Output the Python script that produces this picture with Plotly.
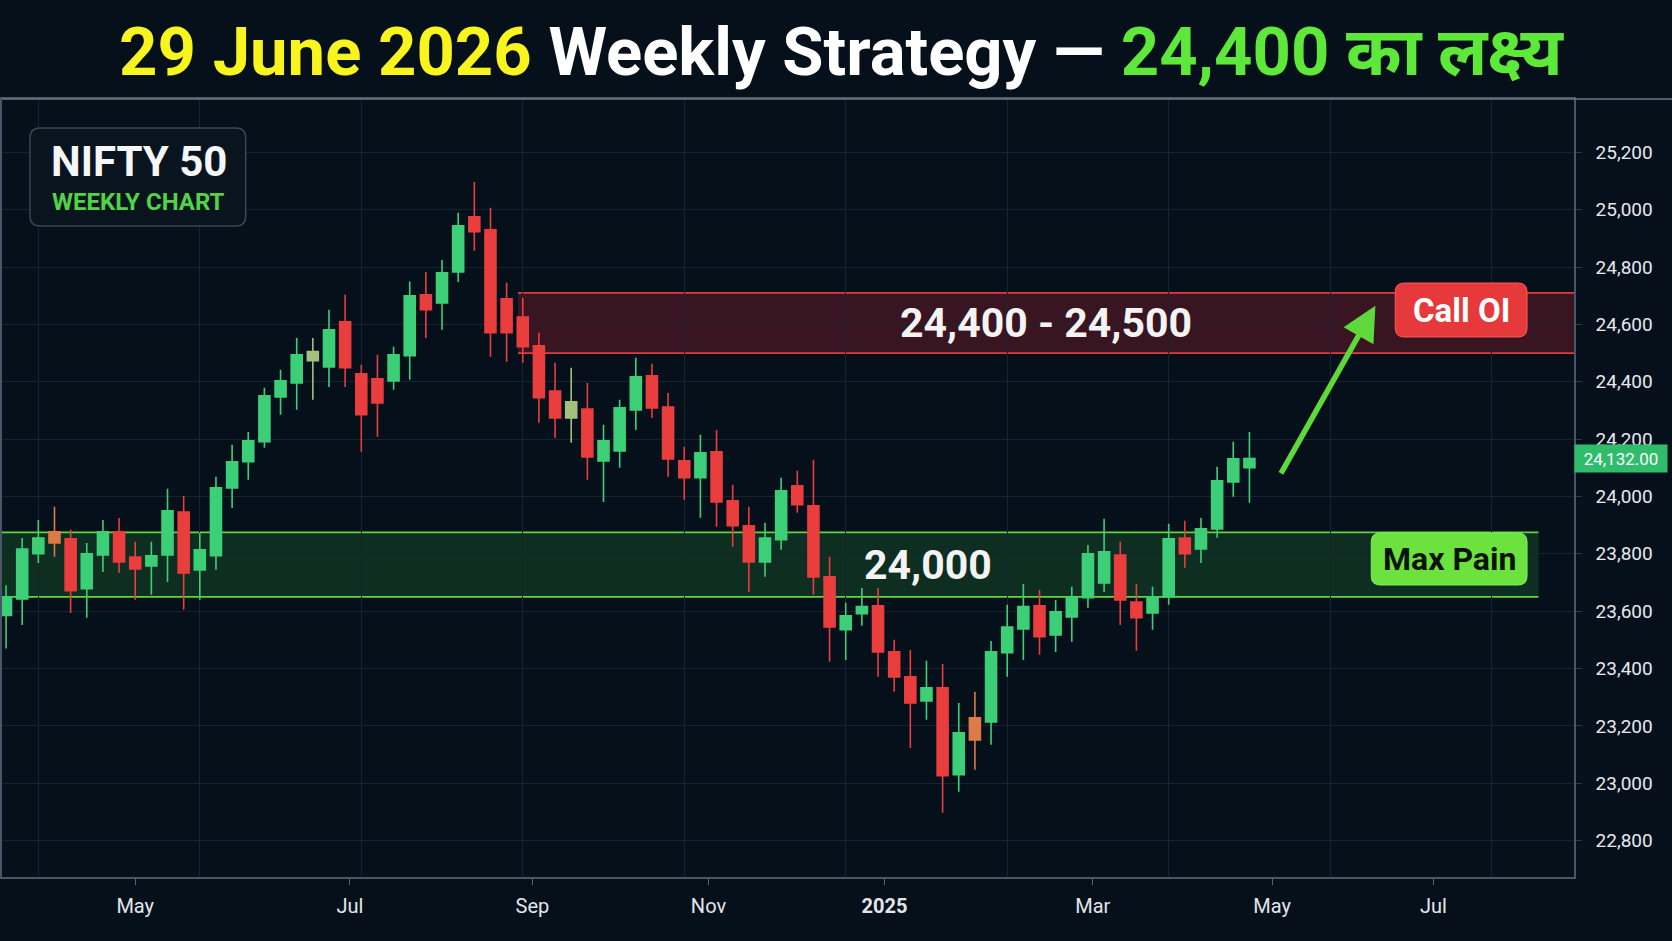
import plotly.graph_objects as go

# ---------------- data ----------------
week_index = list(range(78))
opens = [23585, 23643, 23800, 23877, 23852, 23678, 23796, 23877, 23789, 23758,
         23796, 23946, 23744, 23793, 24030, 24121, 24191, 24347, 24396, 24473,
         24452, 24609, 24428, 24410, 24403, 24491, 24703, 24675, 24783, 24975,
         24930, 24689, 24626, 24525, 24368, 24274, 24305, 24124, 24159, 24302,
         24421, 24312, 24124, 24065, 24156, 23985, 23898, 23772, 23849, 24037,
         23967, 23720, 23535, 23591, 23619, 23458, 23371, 23287, 23333, 23030,
         23228, 23214, 23455, 23538, 23619, 23517, 23580, 23647, 23698, 23796,
         23632, 23594, 23650, 23855, 23817, 23887, 24051, 24100]
highs = [23690, 23855, 23918, 23964, 23884, 23838, 23918, 23925, 23842, 23842,
         24027, 24002, 23873, 24069, 24180, 24225, 24379, 24442, 24553, 24553,
         24651, 24703, 24459, 24494, 24522, 24750, 24783, 24825, 24989, 25097,
         25007, 24745, 24693, 24571, 24466, 24449, 24396, 24250, 24337, 24484,
         24463, 24361, 24173, 24215, 24232, 24041, 23964, 23908, 24065, 24090,
         24128, 23790, 23629, 23681, 23681, 23500, 23465, 23427, 23416, 23280,
         23319, 23496, 23622, 23695, 23674, 23639, 23685, 23831, 23922, 23842,
         23695, 23685, 23905, 23915, 23925, 24104, 24191, 24225]
lows = [23470, 23552, 23768, 23790, 23594, 23577, 23737, 23733, 23640, 23657,
        23702, 23605, 23640, 23744, 23960, 24058, 24170, 24285, 24302, 24337,
        24382, 24382, 24156, 24208, 24372, 24407, 24553, 24581, 24748, 24857,
        24487, 24470, 24466, 24257, 24204, 24187, 24058, 23981, 24100, 24232,
        24274, 24069, 23988, 23926, 23894, 23825, 23667, 23720, 23814, 23943,
        23657, 23424, 23430, 23549, 23371, 23319, 23123, 23221, 22897, 22970,
        23047, 23134, 23371, 23430, 23448, 23458, 23493, 23612, 23667, 23552,
        23462, 23535, 23622, 23751, 23768, 23856, 23999, 23978]
closes = [23650, 23817, 23855, 23838, 23671, 23800, 23877, 23772, 23747, 23793,
          23950, 23733, 23814, 24030, 24121, 24194, 24351, 24403, 24494, 24505,
          24581, 24449, 24285, 24326, 24494, 24700, 24651, 24780, 24944, 24923,
          24571, 24571, 24522, 24344, 24274, 24330, 24138, 24194, 24309, 24417,
          24309, 24131, 24065, 24152, 23981, 23898, 23772, 23855, 24020, 23971,
          23719, 23545, 23584, 23616, 23458, 23371, 23280, 23333, 23026, 23176,
          23151, 23458, 23545, 23616, 23511, 23598, 23647, 23800, 23807, 23639,
          23577, 23650, 23852, 23800, 23887, 24055, 24131, 24132]
# candles drawn in muted (olive / orange) colours
muted_candles = [3, 19, 35, 60]

month_labels = ["May", "Jul", "Sep", "Nov", "<b>2025</b>", "Mar", "May", "Jul"]
month_label_pos = [8.0, 21.3, 32.6, 43.5, 54.4, 67.3, 78.4, 88.4]

call_oi_zone = [24500, 24710]
call_oi_zone_start = 31.7
max_pain_zone = [23650, 23875]
max_pain_zone_end = 94.9
last_price = 24132
target_arrow = {"from": (78.9, 24075), "to": (84.8, 24665)}

# ---------------- layout geometry ----------------
W, H = 1672, 941
ML, MR, MT, MB = 0, 98, 99, 64
PW, PH = W - ML - MR, H - MT - MB
X_RANGE = [-0.25, 97.1]
Y_RANGE = [22673, 25386]

BG = "#06101b"
GREEN = "#3dcf78"
RED = "#ea3d3d"
FONT = "Roboto, 'Noto Sans', sans-serif"


def px(x):
    return (x - ML) / PW


def py(y):
    return (H - MB - y) / PH


def rrect(x0, y0, x1, y1, r):
    def P(x, y):
        return f"{px(x):.5f},{py(y):.5f}"
    return (f"M {P(x0 + r, y0)} L {P(x1 - r, y0)} Q {P(x1, y0)} {P(x1, y0 + r)} "
            f"L {P(x1, y1 - r)} Q {P(x1, y1)} {P(x1 - r, y1)} L {P(x0 + r, y1)} "
            f"Q {P(x0, y1)} {P(x0, y1 - r)} L {P(x0, y0 + r)} Q {P(x0, y0)} {P(x0 + r, y0)} Z")


main_idx = [i for i in week_index if i not in muted_candles]


def pick(arr, idx):
    return [arr[i] for i in idx]


fig = go.Figure()
fig.add_trace(go.Candlestick(
    x=pick(week_index, main_idx), open=pick(opens, main_idx), high=pick(highs, main_idx),
    low=pick(lows, main_idx), close=pick(closes, main_idx),
    increasing=dict(line=dict(color=GREEN, width=1.6), fillcolor=GREEN),
    decreasing=dict(line=dict(color=RED, width=1.6), fillcolor=RED),
    whiskerwidth=0, showlegend=False, hoverinfo="skip"))
fig.add_trace(go.Candlestick(
    x=pick(week_index, muted_candles), open=pick(opens, muted_candles),
    high=pick(highs, muted_candles), low=pick(lows, muted_candles),
    close=pick(closes, muted_candles),
    increasing=dict(line=dict(color="#a4c07e", width=1.6), fillcolor="#a4c07e"),
    decreasing=dict(line=dict(color="#de7a48", width=1.6), fillcolor="#de7a48"),
    whiskerwidth=0, showlegend=False, hoverinfo="skip"))

shapes = [
    # Call OI resistance zone
    dict(type="rect", xref="x", yref="y", x0=call_oi_zone_start, x1=X_RANGE[1] + 5,
         y0=call_oi_zone[0], y1=call_oi_zone[1], fillcolor="rgba(200,40,52,0.26)",
         line=dict(width=0), layer="below"),
    dict(type="line", xref="x", yref="y", x0=call_oi_zone_start, x1=X_RANGE[1] + 5,
         y0=call_oi_zone[1], y1=call_oi_zone[1], line=dict(color="#e23b3d", width=1.6),
         layer="below"),
    dict(type="line", xref="x", yref="y", x0=call_oi_zone_start, x1=X_RANGE[1] + 5,
         y0=call_oi_zone[0], y1=call_oi_zone[0], line=dict(color="#e23b3d", width=1.6),
         layer="below"),
    # Max pain zone
    dict(type="rect", xref="x", yref="y", x0=X_RANGE[0] - 1, x1=max_pain_zone_end,
         y0=max_pain_zone[0], y1=max_pain_zone[1], fillcolor="rgba(46,170,62,0.20)",
         line=dict(width=0), layer="below"),
    dict(type="line", xref="x", yref="y", x0=X_RANGE[0] - 1, x1=max_pain_zone_end,
         y0=max_pain_zone[1], y1=max_pain_zone[1], line=dict(color="#5dd63f", width=1.8),
         layer="below"),
    dict(type="line", xref="x", yref="y", x0=X_RANGE[0] - 1, x1=max_pain_zone_end,
         y0=max_pain_zone[0], y1=max_pain_zone[0], line=dict(color="#5dd63f", width=1.8),
         layer="below"),
    # title separator
    dict(type="line", xref="paper", yref="paper", x0=px(0), x1=px(W), y0=py(MT), y1=py(MT),
         line=dict(color="#6c7684", width=1.5), layer="above"),
    # NIFTY badge
    dict(type="path", xref="paper", yref="paper", path=rrect(28, 128, 244, 226, 10),
         fillcolor="#0a141f", line=dict(color="#3b4655", width=1.5), layer="above"),
    # Call OI label box
    dict(type="path", xref="paper", yref="paper", path=rrect(1395, 283, 1527, 337, 9),
         fillcolor="#e5393b", line=dict(color="#ff5a5a", width=1), layer="above"),
    # Max Pain label box
    dict(type="path", xref="paper", yref="paper", path=rrect(1371, 533, 1527, 585, 9),
         fillcolor="#6be23e", line=dict(color="#7ff058", width=1), layer="above"),
]

annotations = [
    dict(xref="paper", yref="paper", x=px(137), y=py(162), text="<b>NIFTY 50</b>",
         showarrow=False, font=dict(family=FONT, size=42, color="#f4f6f8"),
         xanchor="center", yanchor="middle"),
    dict(xref="paper", yref="paper", x=px(137), y=py(202), text="<b>WEEKLY CHART</b>",
         showarrow=False, font=dict(family=FONT, size=24, color="#4fd447"),
         xanchor="center", yanchor="middle"),
    dict(xref="x", yref="y", x=64.4, y=sum(call_oi_zone) / 2, text="<b>24,400 - 24,500</b>",
         showarrow=False, font=dict(family=FONT, size=41, color="#f3f3f3"),
         xanchor="center", yanchor="middle"),
    dict(xref="x", yref="y", x=57.1, y=sum(max_pain_zone) / 2, text="<b>24,000</b>",
         showarrow=False, font=dict(family=FONT, size=41, color="#f3f3f3"),
         xanchor="center", yanchor="middle"),
    dict(xref="paper", yref="paper", x=px(1461), y=py(310), text="<b>Call OI</b>",
         showarrow=False, font=dict(family=FONT, size=33, color="#ffffff"),
         xanchor="center", yanchor="middle"),
    dict(xref="paper", yref="paper", x=px(1449), y=py(559), text="<b>Max Pain</b>",
         showarrow=False, font=dict(family=FONT, size=32, color="#0b120a"),
         xanchor="center", yanchor="middle"),
    dict(xref="x", yref="y", axref="x", ayref="y",
         x=target_arrow["to"][0], y=target_arrow["to"][1],
         ax=target_arrow["from"][0], ay=target_arrow["from"][1],
         text="", showarrow=True, arrowhead=2, arrowsize=1.25, arrowwidth=5.5,
         arrowcolor="#5fd83c"),
    dict(xref="paper", yref="y", x=1.0, y=last_price, text=f"{last_price:,.2f}",
         showarrow=False, xanchor="left", yanchor="middle", width=90, height=25,
         bgcolor="#2fbd6b", font=dict(family=FONT, size=17, color="#ffffff")),
]

title_text = ("<span style='color:#f8f41e'>29 June 2026</span> Weekly Strategy — "
              "<span style='color:#5ee83a'>24,400 का लक्ष्य</span>")

fig.update_layout(
    width=W, height=H,
    margin=dict(l=ML, r=MR, t=MT, b=MB, pad=0),
    paper_bgcolor=BG, plot_bgcolor=BG,
    boxgap=0.32, boxgroupgap=0,
    title=dict(text=title_text, x=0.503, xref="container", xanchor="center",
               y=1 - 52 / H, yref="container", yanchor="middle",
               font=dict(family=FONT, size=67, color="#ffffff", weight=700)),
    shapes=shapes, annotations=annotations,
    showlegend=False,
    xaxis=dict(range=X_RANGE, tickmode="array", tickvals=month_label_pos, ticktext=month_labels,
               showgrid=False, zeroline=False, rangeslider=dict(visible=False),
               ticks="outside", ticklen=6, tickcolor="#5a6575", ticklabelstandoff=4,
               tickfont=dict(family=FONT, size=20, color="#e2e6eb"),
               showline=True, linecolor="#4a5566", linewidth=1.5, mirror=True,
               minor=dict(tickmode="linear", tick0=2, dtick=10, showgrid=True,
                          gridcolor="#172330", gridwidth=1, ticks="")),
    yaxis=dict(range=Y_RANGE, side="right", tickmode="linear", tick0=22800, dtick=200,
               tickformat=",d", showgrid=True, gridcolor="#172330", gridwidth=1,
               zeroline=False, ticks="outside", ticklen=6, tickcolor="#2c3845",
               ticklabelstandoff=10,
               tickfont=dict(family=FONT, size=19, color="#e6e9ee"),
               showline=True, linecolor="#4a5566", linewidth=1.5, mirror=True),
)

fig.write_html("out.html")
